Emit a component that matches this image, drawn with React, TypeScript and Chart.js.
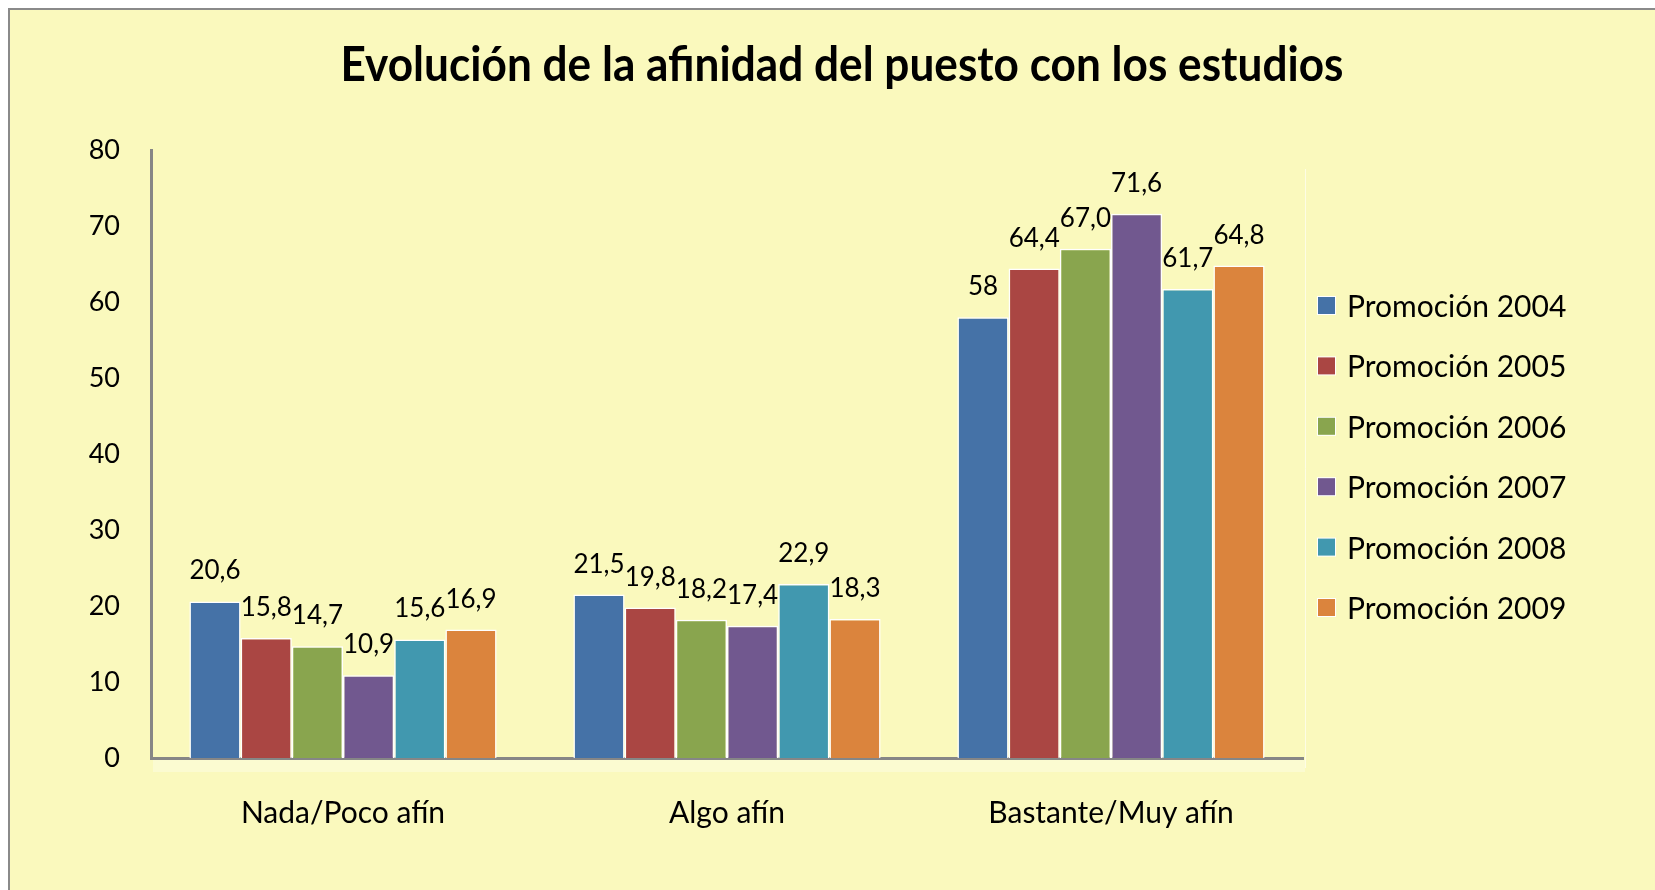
import React, { useEffect, useRef } from "react";
import { Chart, registerables } from "chart.js";

Chart.register(...registerables);

const titleText = "Evolución de la afinidad del puesto con los estudios";
const categories = ["Nada/Poco afín", "Algo afín", "Bastante/Muy afín"];
const seriesNames = [
  "Promoción 2004",
  "Promoción 2005",
  "Promoción 2006",
  "Promoción 2007",
  "Promoción 2008",
  "Promoción 2009",
];
const promo2004 = [20.6, 21.5, 58];
const promo2005 = [15.8, 19.8, 64.4];
const promo2006 = [14.7, 18.2, 67.0];
const promo2007 = [10.9, 17.4, 71.6];
const promo2008 = [15.6, 22.9, 61.7];
const promo2009 = [16.9, 18.3, 64.8];
const labels2004 = ["20,6", "21,5", "58"];
const labels2005 = ["15,8", "19,8", "64,4"];
const labels2006 = ["14,7", "18,2", "67,0"];
const labels2007 = ["10,9", "17,4", "71,6"];
const labels2008 = ["15,6", "22,9", "61,7"];
const labels2009 = ["16,9", "18,3", "64,8"];
const yTicks = [0, 10, 20, 30, 40, 50, 60, 70, 80];
const seriesColors = ["#4572A7", "#AA4643", "#89A54E", "#71588F", "#4198AF", "#DB843D"];

const seriesValues = [promo2004, promo2005, promo2006, promo2007, promo2008, promo2009];
const seriesLabelTexts = [labels2004, labels2005, labels2006, labels2007, labels2008, labels2009];

const FONT = "Lato, 'Open Sans', sans-serif";

const decorPlugin = {
  id: "decor",
  beforeDatasetsDraw(chart: any) {
    const { ctx, chartArea } = chart;
    ctx.save();
    // faint 3D floor and back wall edge
    ctx.fillStyle = "rgba(255,255,255,0.3)";
    ctx.fillRect(chartArea.left + 2, chartArea.bottom + 2, chartArea.right - chartArea.left, 12);
    ctx.strokeStyle = "rgba(255,255,255,0.6)";
    ctx.lineWidth = 1;
    ctx.beginPath();
    ctx.moveTo(chartArea.right + 2.5, chartArea.top + 19);
    ctx.lineTo(chartArea.right + 2.5, chartArea.bottom + 10);
    ctx.stroke();
    ctx.restore();
  },
  afterDraw(chart: any) {
    const { ctx, chartArea } = chart;
    ctx.save();
    // title
    ctx.fillStyle = "#000";
    ctx.font = `bold 48px ${FONT}`;
    ctx.textAlign = "center";
    ctx.textBaseline = "alphabetic";
    ctx.fillText(titleText, 832, 71, 1003);

    // data labels
    ctx.font = `26px ${FONT}`;
    chart.data.datasets.forEach((ds: any, di: number) => {
      const meta = chart.getDatasetMeta(di);
      meta.data.forEach((el: any, i: number) => {
        ctx.fillText(seriesLabelTexts[di][i], el.x, el.y - 22);
      });
    });

    // legend
    const rowGap = 60.4;
    const n = chart.data.datasets.length;
    const centerY = (chartArea.top + chartArea.bottom) / 2 + 3;
    const startY = centerY - ((n - 1) * rowGap) / 2;
    const boxX = chartArea.right + 15;
    ctx.textAlign = "left";
    ctx.font = `30px ${FONT}`;
    chart.data.datasets.forEach((ds: any, di: number) => {
      const cy = startY + di * rowGap;
      ctx.fillStyle = "#ffffff";
      ctx.fillRect(boxX - 1, cy - 10, 19, 19);
      ctx.fillStyle = ds.backgroundColor;
      ctx.fillRect(boxX, cy - 9, 17, 17);
      ctx.fillStyle = "#000";
      ctx.fillText(ds.label, boxX + 29, cy + 11);
    });
    ctx.restore();
  },
};

export default function App() {
  const canvasRef = useRef<HTMLCanvasElement | null>(null);

  useEffect(() => {
    if (!canvasRef.current) return;
    const chart = new Chart(canvasRef.current, {
      type: "bar",
      data: {
        labels: categories,
        datasets: seriesNames.map((name, i) => ({
          label: name,
          data: seriesValues[i],
          backgroundColor: seriesColors[i],
          borderColor: "#FFFFFF",
          borderWidth: 1.5,
          barPercentage: 1,
          categoryPercentage: 0.8,
        })),
      },
      options: {
        responsive: false,
        animation: false,
        layout: { padding: { left: 0, right: 352, top: 140, bottom: 32 } },
        plugins: {
          legend: { display: false },
          title: { display: false },
          tooltip: { enabled: false },
        },
        scales: {
          x: {
            grid: { display: false, drawTicks: false },
            border: { display: true, color: "#868686", width: 3 },
            ticks: { color: "#000", font: { family: FONT, size: 30 }, padding: 37 },
            afterFit: (scale: any) => {
              scale.height = 100;
            },
          },
          y: {
            min: 0,
            max: 80,
            grid: { display: false, drawTicks: false },
            border: { display: true, color: "#868686", width: 3 },
            afterBuildTicks: (scale: any) => {
              scale.ticks = yTicks.map((v) => ({ value: v }));
            },
            ticks: { color: "#000", font: { family: FONT, size: 27 }, padding: 31 },
            afterFit: (scale: any) => {
              scale.width = 141;
            },
          },
        },
      },
      plugins: [decorPlugin],
    });
    return () => chart.destroy();
  }, []);

  return (
    <div
      style={{
        position: "fixed",
        left: 8,
        top: 8,
        width: 1647,
        height: 882,
        boxSizing: "border-box",
        borderTop: "2px solid #8a8a8a",
        borderLeft: "2px solid #8a8a8a",
        background: "#FAF9BD",
      }}
    >
      <canvas ref={canvasRef} width={1645} height={880} style={{ display: "block" }} />
    </div>
  );
}
